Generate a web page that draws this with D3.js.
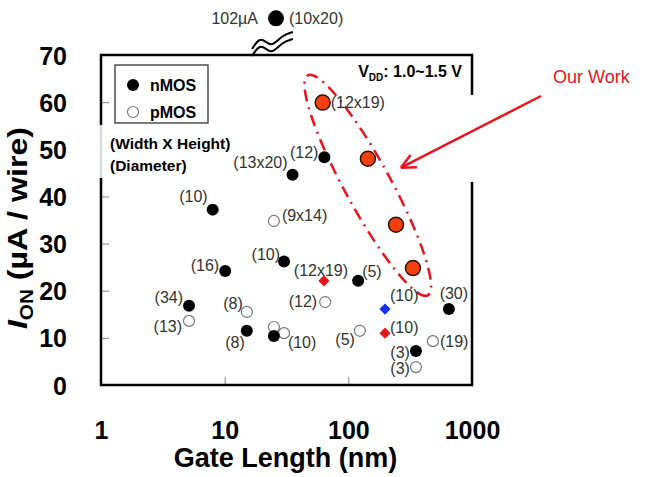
<!DOCTYPE html>
<html>
<head>
<meta charset="utf-8">
<script src="https://cdn.jsdelivr.net/npm/d3@7"></script>
<style>
body { margin: 0; background: #fff; font-family: "Liberation Sans", Arial, sans-serif; }
</style>
</head>
<body>
<script>
// ---- data (gate length nm, Ion uA/wire) ----
const nmosX = [8, 35.4, 64, 10.1, 30.2, 5.15, 15.1, 25, 120, 650, 352];
const nmosY = [37.2, 44.6, 48.3, 24.2, 26.2, 16.8, 11.5, 10.4, 22.1, 16.1, 7.2];
const nmosLabel = ["(10)", "(13x20)", "(12)", "(16)", "(10)", "(34)", "(8)", "(10)", "(5)", "(30)", "(3)"];

const pmosX = [25, 5.15, 15.1, 65, 25, 30.2, 124, 483, 352];
const pmosY = [34.8, 13.6, 15.5, 17.6, 12.3, 11.0, 11.5, 9.3, 3.8];
const pmosLabel = ["(9x14)", "(13)", "(8)", "(12)", "", "", "(5)", "(19)", "(3)"];

const diaX = [63.5, 198, 198];
const diaY = [22.1, 16.1, 11.0];
const diaGroup = ["red", "blue", "red"];
const diaLabel = ["(12x19)", "(10)", "(10)"];

const ourX = [62, 144, 243, 333];
const ourY = [59.9, 48.0, 34.0, 24.8];
const ourLabel = ["(12x19)", "", "", ""];

const offX = 26, offY = 102, offLabelL = "102\u00b5A", offLabelR = "(10x20)";

const xTicks = [1, 10, 100, 1000];
const yTicks = [0, 10, 20, 30, 40, 50, 60, 70];

// label placement [dx, dy, anchor]
const nmosPos = [[-5,-13,"end"],[-5,-12,"end"],[-6,-5,"end"],[-6,-6,"end"],[-4,-7,"end"],[-6,-8,"end"],
                 [-2,12,"end"],[14,6,"start"],[4,-9,"start"],[5,-16,"middle"],[-6,1,"end"]];
const pmosPos = [[8,-6,"start"],[-7,6,"end"],[-4,-9,"end"],[-8,-1,"end"],[0,0,"end"],[0,0,"end"],
                 [-5,9,"end"],[7,0,"start"],[-6,1,"end"]];
const diaPos = [[-3,-10,"middle"],[5,-14,"start"],[5,-6,"start"]];
const ourPos = [[8,0,"start"],[0,0,"start"],[0,0,"start"],[0,0,"start"]];

var w = 647;
var h = 477;
const margin = {top: 55, right: 175, bottom: 92, left: 101};
const width = w - margin.left - margin.right,
    height = h - margin.top - margin.bottom;

const svg = d3.select("body").append("svg")
    .attr("width", w)
    .attr("height", h);

const g = svg.append("g")
    .attr("transform", "translate(" + margin.left + "," + margin.top + ")");

var x = d3.scaleLog().domain([1, 1000]).range([0, width]);
var y = d3.scaleLinear().domain([0, 70]).range([height, 0]);
// broken segment above the frame for the off-scale point
var yTop = d3.scaleLinear().domain([95, 110]).range([-25, -50]);

var diaColor = d3.scaleOrdinal().domain(["red", "blue"]).range(["#e8141c", "#1a2ff2"]);

const labelColor = "#333";

// axes
var yAxis = g.append("g")
    .call(d3.axisLeft(y).tickValues(yTicks).tickSizeInner(-8).tickSizeOuter(0).tickPadding(34));
var xAxis = g.append("g")
    .attr("transform", "translate(0," + height + ")")
    .call(d3.axisBottom(x).tickValues(xTicks).tickFormat(d3.format("d"))
        .tickSizeInner(-8).tickSizeOuter(0).tickPadding(36));

[yAxis, xAxis].forEach(a => {
    a.select(".domain").remove();
    a.selectAll(".tick line").attr("stroke", "#888").attr("stroke-width", 1);
    a.selectAll(".tick text")
        .attr("fill", "#000")
        .style("font-family", "Liberation Sans, Arial, sans-serif")
        .style("font-weight", "bold")
        .style("font-size", "25px");
});
yAxis.selectAll(".tick text").attr("dy", "0.36em");

// frame
g.append("rect")
    .attr("x", 0).attr("y", 0)
    .attr("width", width).attr("height", height)
    .attr("fill", "none")
    .attr("stroke", "#000")
    .attr("stroke-width", 2.5);

// legend box
g.append("rect")
    .attr("x", 14).attr("y", 10)
    .attr("width", 93).attr("height", 58)
    .attr("fill", "#fff")
    .attr("stroke", "#222")
    .attr("stroke-width", 1.2);

// white cover with the size note
g.append("rect")
    .attr("x", -6).attr("y", 70)
    .attr("width", 146).attr("height", 53)
    .attr("fill", "#fff")
    .attr("opacity", 0.85);
g.append("text").attr("x", 9).attr("y", 89).attr("dy", "0.35em")
    .style("font-weight", "bold").style("font-size", "15.5px").text("(Width X Height)");
g.append("text").attr("x", 9).attr("y", 111).attr("dy", "0.35em")
    .style("font-weight", "bold").style("font-size", "15.5px").text("(Diameter)");

// gap in right border where the arrow comes in
g.append("rect")
    .attr("x", width - 6).attr("y", 40)
    .attr("width", 14).attr("height", 87)
    .attr("fill", "#fff");

// legend items
g.append("circle").attr("cx", 32).attr("cy", 30).attr("r", 6).attr("fill", "#000");
g.append("circle").attr("cx", 32).attr("cy", 57).attr("r", 5.5)
    .attr("fill", "#fff").attr("stroke", "#777").attr("stroke-width", 1.2);
g.append("text").attr("x", 49).attr("y", 30).attr("dy", "0.35em")
    .style("font-weight", "bold").style("font-size", "16px").text("nMOS");
g.append("text").attr("x", 49).attr("y", 57).attr("dy", "0.35em")
    .style("font-weight", "bold").style("font-size", "16px").text("pMOS");

// VDD note
var vdd = g.append("text")
    .attr("x", width - 10).attr("y", 22)
    .attr("text-anchor", "end")
    .style("font-weight", "bold").style("font-size", "16px");
vdd.append("tspan").text("V");
vdd.append("tspan").attr("dy", 4).style("font-size", "10px").text("DD");
vdd.append("tspan").attr("dy", -4).text(": 1.0~1.5 V");

// helper: draw labels
function drawLabels(xs, ys, labels, pos) {
    g.append("g").selectAll("text")
        .data(labels.map((t, i) => ({t: t, x: xs[i], y: ys[i], p: pos[i]})).filter(d => d.t !== ""))
        .join("text")
        .attr("x", d => x(d.x) + d.p[0])
        .attr("y", d => y(d.y) + d.p[1])
        .attr("dy", "0.35em")
        .attr("text-anchor", d => d.p[2])
        .attr("fill", labelColor)
        .style("font-size", "16px")
        .text(d => d.t);
}

// Our Work outline (dash-dot ellipse around the four points)
var e0 = [x(ourX[0]), y(ourY[0])];
var e1 = [x(ourX[ourX.length - 1]), y(ourY[ourY.length - 1])];
var ecx = (e0[0] + e1[0]) / 2, ecy = (e0[1] + e1[1]) / 2;
var eang = Math.atan2(e1[1] - e0[1], e1[0] - e0[0]) * 180 / Math.PI;
var elen = Math.hypot(e1[0] - e0[0], e1[1] - e0[1]) / 2 + 31;
g.append("ellipse")
    .attr("cx", ecx).attr("cy", ecy)
    .attr("rx", elen).attr("ry", 23)
    .attr("transform", "rotate(" + eang + "," + ecx + "," + ecy + ")")
    .attr("fill", "none")
    .attr("stroke", "#e8141c")
    .attr("stroke-width", 2.5)
    .attr("stroke-dasharray", "12,6,2,6");

// pMOS (open circles)
g.append("g").selectAll("circle")
    .data(pmosX.map((d, i) => [d, pmosY[i]]))
    .join("circle")
    .attr("cx", d => x(d[0]))
    .attr("cy", d => y(d[1]))
    .attr("r", 5.5)
    .attr("fill", "#fff")
    .attr("stroke", "#777")
    .attr("stroke-width", 1.2);

// nMOS (filled circles)
g.append("g").selectAll("circle")
    .data(nmosX.map((d, i) => [d, nmosY[i]]))
    .join("circle")
    .attr("cx", d => x(d[0]))
    .attr("cy", d => y(d[1]))
    .attr("r", 6)
    .attr("fill", "#000");

// diamonds
g.append("g").selectAll("path")
    .data(diaX.map((d, i) => [d, diaY[i], diaGroup[i]]))
    .join("path")
    .attr("d", d3.symbol().type(d3.symbolSquare).size(62))
    .attr("transform", d => "translate(" + x(d[0]) + "," + y(d[1]) + ") rotate(45)")
    .attr("fill", d => diaColor(d[2]));

// our work
g.append("g").selectAll("circle")
    .data(ourX.map((d, i) => [d, ourY[i]]))
    .join("circle")
    .attr("cx", d => x(d[0]))
    .attr("cy", d => y(d[1]))
    .attr("r", 7.5)
    .attr("fill", "#f2400c")
    .attr("stroke", "#2b1208")
    .attr("stroke-width", 1.5);

drawLabels(nmosX, nmosY, nmosLabel, nmosPos);
drawLabels(pmosX, pmosY, pmosLabel, pmosPos);
drawLabels(diaX, diaY, diaLabel, diaPos);
drawLabels(ourX, ourY, ourLabel, ourPos);

// off-scale point above the break
var ox = x(offX), oy = yTop(offY);
g.append("circle").attr("cx", ox).attr("cy", oy).attr("r", 8).attr("fill", "#000");
g.append("text").attr("x", ox - 18).attr("y", oy).attr("dy", "0.35em")
    .attr("text-anchor", "end").attr("fill", labelColor).style("font-size", "16px").text(offLabelL);
g.append("text").attr("x", ox + 13).attr("y", oy).attr("dy", "0.35em")
    .attr("fill", labelColor).style("font-size", "16px").text(offLabelR);

// break symbol
var wave = d3.line().curve(d3.curveBasis);
[0, 7].forEach(k => {
    g.append("path")
        .attr("d", wave([[ox - 24, -6 + k], [ox - 15, -20 + k], [ox - 5, -6 + k], [ox + 6, -20 + k], [ox + 17, -23 + k]]))
        .attr("fill", "none")
        .attr("stroke", "#000")
        .attr("stroke-width", 2);
});

// Our Work arrow + text
var tip = [x(ourX[1]) + 33, y(ourY[1]) + 9];
var tail = [440, 41];
g.append("line")
    .attr("x1", tail[0]).attr("y1", tail[1])
    .attr("x2", tip[0]).attr("y2", tip[1])
    .attr("stroke", "#e8141c").attr("stroke-width", 2.5);
var aa = Math.atan2(tail[1] - tip[1], tail[0] - tip[0]);
[-0.45, 0.45].forEach(s => {
    g.append("line")
        .attr("x1", tip[0]).attr("y1", tip[1])
        .attr("x2", tip[0] + 16 * Math.cos(aa + s)).attr("y2", tip[1] + 16 * Math.sin(aa + s))
        .attr("stroke", "#e8141c").attr("stroke-width", 2.5);
});
g.append("text")
    .attr("x", 452).attr("y", 22).attr("dy", "0.35em")
    .attr("fill", "#e8141c")
    .style("font-size", "18px")
    .text("Our Work");

// axis titles
g.append("text")
    .attr("x", width / 2 - 1)
    .attr("y", height + 82)
    .attr("text-anchor", "middle")
    .style("font-weight", "bold")
    .style("font-size", "27px")
    .text("Gate Length (nm)");

var yt = g.append("text")
    .attr("transform", "translate(-74," + (height / 2 + 8) + ") rotate(-90) scale(1.15,1)")
    .attr("text-anchor", "middle")
    .style("font-weight", "bold")
    .style("font-size", "28px");
yt.append("tspan").style("font-style", "italic").text("I");
yt.append("tspan").attr("dy", 6).style("font-size", "18px").text("ON");
yt.append("tspan").attr("dy", -6).text(" (\u00b5A / wire)");
</script>
</body>
</html>
